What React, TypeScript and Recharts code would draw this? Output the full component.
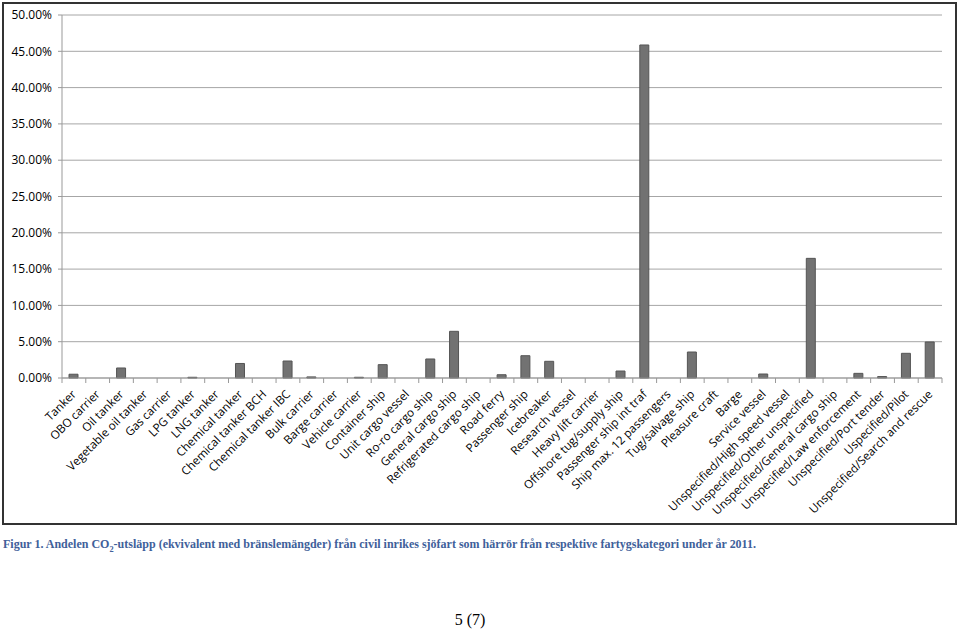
import React from "react";
import { BarChart, Bar, XAxis, YAxis, CartesianGrid } from "recharts";

const categories = [
  "Tanker",
  "OBO carrier",
  "Oil tanker",
  "Vegetable oil tanker",
  "Gas carrier",
  "LPG tanker",
  "LNG tanker",
  "Chemical tanker",
  "Chemical tanker BCH",
  "Chemical tanker IBC",
  "Bulk carrier",
  "Barge carrier",
  "Vehicle carrier",
  "Container ship",
  "Unit cargo vessel",
  "Ro-ro cargo ship",
  "General cargo ship",
  "Refrigerated cargo ship",
  "Road ferry",
  "Passenger ship",
  "Icebreaker",
  "Research vessel",
  "Heavy lift carrier",
  "Offshore tug/supply ship",
  "Passenger ship int traf",
  "Ship max. 12 passengers",
  "Tug/salvage ship",
  "Pleasure craft",
  "Barge",
  "Service vessel",
  "Unspecified/High speed vessel",
  "Unspecified/Other unspecified",
  "Unspecified/General cargo ship",
  "Unspecified/Law enforcement",
  "Unspecified/Port tender",
  "Uspecified/Pilot",
  "Unspecified/Search and rescue",
];

// andel i procent
const shares = [
  0.52, 0, 1.38, 0, 0, 0.1, 0, 2.0, 0, 2.34, 0.15, 0, 0.1, 1.84, 0, 2.62,
  6.43, 0, 0.45, 3.07, 2.3, 0, 0, 0.96, 45.87, 0, 3.58, 0, 0, 0.55, 0, 16.48,
  0, 0.64, 0.2, 3.4, 4.96,
];

const yTicks = [0, 5, 10, 15, 20, 25, 30, 35, 40, 45, 50];

const data = categories.map((name, i) => ({ name, share: shares[i] }));

const PLOT_W = 880;
const STEP = PLOT_W / categories.length;

const CategoryTick = (props: any) => {
  const { x, y, payload, index } = props;
  const left = x - STEP / 2;
  return (
    <g>
      <line x1={left} y1={y - 8} x2={left} y2={y - 3} stroke="#999" />
      {index === categories.length - 1 && (
        <line x1={x + STEP / 2} y1={y - 8} x2={x + STEP / 2} y2={y - 3} stroke="#999" />
      )}
      <text
        x={x + 3}
        y={y + 9}
        textAnchor="end"
        transform={`rotate(-45, ${x + 3}, ${y + 9})`}
        fontSize={11.7}
        fontFamily="'Open Sans', sans-serif"
        fill="#000"
      >
        {payload.value}
      </text>
    </g>
  );
};

const App = () => {
  return (
    <div style={{ position: "absolute", left: 0, top: 0, width: 960, height: 630, background: "#fff" }}>
      <div
        style={{
          position: "absolute",
          left: 2,
          top: 2,
          width: 955,
          height: 523,
          border: "2px solid #333",
          boxSizing: "border-box",
        }}
      />
      <div style={{ position: "absolute", left: 0, top: 0 }}>
        <BarChart
          width={960}
          height={526}
          data={data}
          margin={{ top: 15, right: 18, left: 2, bottom: 0 }}
          barCategoryGap={0}
        >
          <CartesianGrid vertical={false} stroke="#a6a6a6" />
          <XAxis
            dataKey="name"
            interval={0}
            height={148}
            stroke="#999"
            tickLine={false}
            tick={<CategoryTick />}
          />
          <YAxis
            width={60}
            domain={[0, 50]}
            ticks={yTicks}
            interval={0}
            stroke="#999"
            tickSize={4}
            tickMargin={6}
            tickFormatter={(v: number) => v.toFixed(2) + "%"}
            tick={{ fill: "#000", fontSize: 12, fontFamily: "'Open Sans', sans-serif" }}
          />
          <Bar dataKey="share" fill="#727272" stroke="#555" barSize={9} isAnimationActive={false} />
        </BarChart>
      </div>
      <div
        style={{
          position: "absolute",
          left: 3,
          top: 536,
          fontFamily: "'Liberation Serif', serif",
          fontWeight: "bold",
          fontSize: 13,
          color: "#40609a",
          whiteSpace: "nowrap",
          transformOrigin: "left top",
          transform: "scaleX(0.923)",
        }}
      >
        Figur 1. Andelen CO<sub style={{ fontSize: 9 }}>2</sub>-utsläpp (ekvivalent med bränslemängder) från civil inrikes
        sjöfart som härrör från respektive fartygskategori under år 2011.
      </div>
      <div
        style={{
          position: "absolute",
          left: 0,
          width: 940,
          top: 611,
          textAlign: "center",
          fontFamily: "'Liberation Serif', serif",
          fontSize: 16,
          color: "#000",
        }}
      >
        5 (7)
      </div>
    </div>
  );
};

export default App;
